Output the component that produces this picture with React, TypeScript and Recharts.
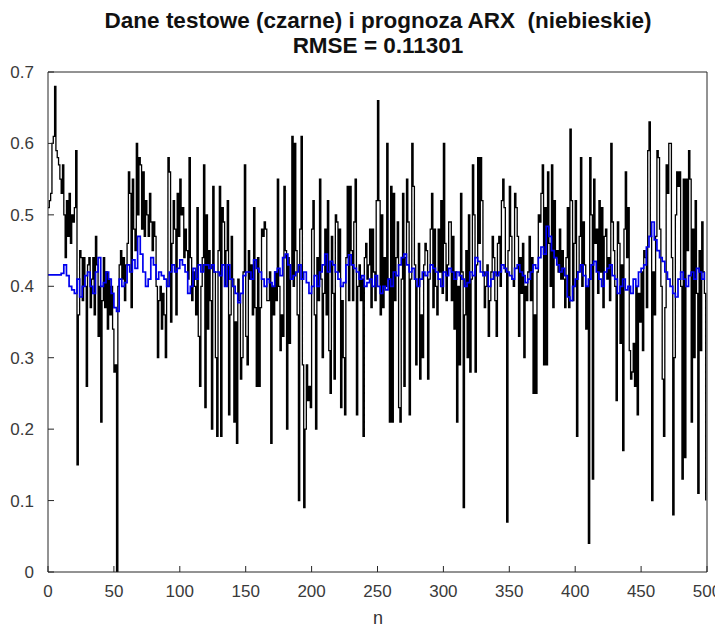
import { LineChart, Line, XAxis, YAxis } from 'recharts';

// test data (black stairs), one value per sample n = 0..499
const testData: number[] = [
  0.51, 0.52, 0.53, 0.60, 0.61, 0.68, 0.59, 0.58, 0.57, 0.55,
  0.53, 0.57, 0.50, 0.44, 0.52, 0.47, 0.53, 0.46, 0.50, 0.49,
  0.51, 0.59, 0.15, 0.36, 0.45, 0.44, 0.38, 0.44, 0.40, 0.26,
  0.43, 0.44, 0.37, 0.41, 0.44, 0.36, 0.47, 0.43, 0.33, 0.40,
  0.21, 0.38, 0.44, 0.37, 0.42, 0.34, 0.41, 0.36, 0.40, 0.34,
  0.28, 0.29, 0.00, 0.40, 0.43, 0.45, 0.41, 0.44, 0.38, 0.43,
  0.46, 0.56, 0.53, 0.37, 0.55, 0.48, 0.45, 0.60, 0.50, 0.58,
  0.57, 0.48, 0.56, 0.47, 0.52, 0.50, 0.47, 0.53, 0.49, 0.45,
  0.49, 0.47, 0.40, 0.30, 0.38, 0.40, 0.34, 0.39, 0.36, 0.30,
  0.40, 0.58, 0.56, 0.35, 0.46, 0.52, 0.48, 0.36, 0.53, 0.47,
  0.55, 0.50, 0.51, 0.44, 0.48, 0.45, 0.41, 0.58, 0.44, 0.38,
  0.42, 0.40, 0.36, 0.51, 0.33, 0.26, 0.40, 0.44, 0.57, 0.23,
  0.50, 0.34, 0.45, 0.38, 0.20, 0.54, 0.42, 0.30, 0.19, 0.45,
  0.54, 0.19, 0.51, 0.49, 0.40, 0.45, 0.52, 0.22, 0.36, 0.47,
  0.41, 0.21, 0.35, 0.18, 0.41, 0.38, 0.27, 0.30, 0.42, 0.57,
  0.33, 0.29, 0.45, 0.41, 0.43, 0.36, 0.51, 0.37, 0.26, 0.44,
  0.26, 0.37, 0.48, 0.47, 0.49, 0.48, 0.38, 0.38, 0.42, 0.18,
  0.40, 0.36, 0.42, 0.38, 0.55, 0.40, 0.31, 0.36, 0.33, 0.54,
  0.45, 0.20, 0.44, 0.32, 0.41, 0.61, 0.40, 0.60, 0.45, 0.36,
  0.10, 0.48, 0.61, 0.29, 0.09, 0.20, 0.29, 0.24, 0.26, 0.23,
  0.48, 0.52, 0.36, 0.20, 0.44, 0.38, 0.55, 0.41, 0.30, 0.39,
  0.48, 0.36, 0.52, 0.31, 0.25, 0.47, 0.39, 0.27, 0.50, 0.49,
  0.42, 0.48, 0.23, 0.38, 0.30, 0.22, 0.44, 0.54, 0.38, 0.54,
  0.45, 0.38, 0.49, 0.55, 0.22, 0.40, 0.43, 0.38, 0.41, 0.19,
  0.44, 0.46, 0.41, 0.43, 0.48, 0.37, 0.48, 0.42, 0.38, 0.52,
  0.66, 0.52, 0.36, 0.50, 0.37, 0.44, 0.40, 0.60, 0.41, 0.21,
  0.54, 0.21, 0.53, 0.38, 0.44, 0.49, 0.23, 0.21, 0.41, 0.53,
  0.26, 0.44, 0.55, 0.49, 0.22, 0.41, 0.60, 0.54, 0.43, 0.29,
  0.40, 0.46, 0.27, 0.36, 0.30, 0.43, 0.46, 0.45, 0.27, 0.41,
  0.48, 0.53, 0.37, 0.48, 0.40, 0.36, 0.48, 0.42, 0.52, 0.39,
  0.60, 0.46, 0.38, 0.43, 0.49, 0.49, 0.38, 0.47, 0.34, 0.42,
  0.21, 0.40, 0.29, 0.53, 0.42, 0.09, 0.36, 0.45, 0.30, 0.50,
  0.28, 0.41, 0.57, 0.50, 0.28, 0.43, 0.58, 0.46, 0.58, 0.52,
  0.42, 0.37, 0.40, 0.43, 0.33, 0.38, 0.42, 0.47, 0.44, 0.38,
  0.33, 0.46, 0.47, 0.40, 0.52, 0.55, 0.51, 0.42, 0.07, 0.45,
  0.54, 0.47, 0.41, 0.40, 0.53, 0.51, 0.47, 0.33, 0.44, 0.39,
  0.46, 0.30, 0.40, 0.38, 0.42, 0.47, 0.38, 0.44, 0.25, 0.36,
  0.25, 0.42, 0.50, 0.49, 0.53, 0.57, 0.29, 0.51, 0.29, 0.56,
  0.46, 0.40, 0.57, 0.37, 0.52, 0.44, 0.45, 0.42, 0.48, 0.41,
  0.45, 0.41, 0.37, 0.44, 0.51, 0.37, 0.62, 0.52, 0.38, 0.46,
  0.52, 0.19, 0.42, 0.47, 0.58, 0.40, 0.49, 0.43, 0.34, 0.40,
  0.04, 0.58, 0.50, 0.13, 0.55, 0.46, 0.48, 0.39, 0.52, 0.42,
  0.51, 0.37, 0.47, 0.48, 0.41, 0.44, 0.38, 0.60, 0.49, 0.45,
  0.40, 0.24, 0.49, 0.46, 0.32, 0.43, 0.17, 0.48, 0.56, 0.44,
  0.51, 0.31, 0.27, 0.28, 0.32, 0.26, 0.40, 0.22, 0.39, 0.35,
  0.42, 0.31, 0.45, 0.44, 0.37, 0.59, 0.63, 0.47, 0.10, 0.42,
  0.36, 0.47, 0.59, 0.58, 0.48, 0.40, 0.27, 0.19, 0.37, 0.57,
  0.53, 0.60, 0.60, 0.44, 0.08, 0.30, 0.50, 0.56, 0.54, 0.56,
  0.40, 0.13, 0.55, 0.16, 0.55, 0.45, 0.59, 0.55, 0.21, 0.48,
  0.30, 0.52, 0.39, 0.11, 0.45, 0.31, 0.49, 0.42, 0.39, 0.10,
];

// ARX prediction (blue), read every second sample n = 0, 2, ..., 498
const predStep = 2;
const predData: number[] = [
  0.416, 0.416, 0.416, 0.416, 0.416, 0.418, 0.43, 0.415, 0.40, 0.395,
  0.39, 0.41, 0.385, 0.40, 0.415, 0.42, 0.40, 0.39, 0.42, 0.44,
  0.40, 0.405, 0.42, 0.41, 0.39, 0.37, 0.365, 0.41, 0.40, 0.405,
  0.43, 0.42, 0.437, 0.425, 0.47, 0.445, 0.42, 0.40, 0.41, 0.44,
  0.43, 0.41, 0.42, 0.415, 0.41, 0.40, 0.42, 0.43, 0.42, 0.425,
  0.437, 0.43, 0.42, 0.39, 0.40, 0.425, 0.41, 0.43, 0.42, 0.43,
  0.43, 0.425, 0.43, 0.42, 0.42, 0.415, 0.43, 0.40, 0.43, 0.41,
  0.40, 0.39, 0.377, 0.39, 0.415, 0.42, 0.42, 0.41, 0.437, 0.425,
  0.42, 0.41, 0.40, 0.41, 0.405, 0.40, 0.42, 0.425, 0.415, 0.44,
  0.445, 0.43, 0.41, 0.415, 0.42, 0.43, 0.41, 0.42, 0.405, 0.39,
  0.40, 0.415, 0.40, 0.42, 0.43, 0.445, 0.42, 0.435, 0.43, 0.42,
  0.41, 0.40, 0.405, 0.43, 0.444, 0.43, 0.425, 0.42, 0.41, 0.415,
  0.40, 0.405, 0.41, 0.40, 0.415, 0.40, 0.39, 0.40, 0.395, 0.41,
  0.40, 0.42, 0.415, 0.43, 0.44, 0.445, 0.43, 0.42, 0.425, 0.41,
  0.40, 0.41, 0.42, 0.415, 0.42, 0.43, 0.425, 0.42, 0.41, 0.40,
  0.42, 0.415, 0.425, 0.42, 0.41, 0.42, 0.415, 0.41, 0.40, 0.405,
  0.42, 0.415, 0.44, 0.435, 0.42, 0.415, 0.42, 0.40, 0.41, 0.42,
  0.415, 0.42, 0.43, 0.425, 0.42, 0.415, 0.41, 0.425, 0.43, 0.42,
  0.415, 0.405, 0.41, 0.42, 0.43, 0.425, 0.44, 0.455, 0.445, 0.484,
  0.47, 0.45, 0.44, 0.43, 0.42, 0.425, 0.415, 0.385, 0.38, 0.40,
  0.41, 0.42, 0.43, 0.415, 0.40, 0.41, 0.43, 0.435, 0.42, 0.41,
  0.40, 0.42, 0.425, 0.43, 0.415, 0.41, 0.39, 0.40, 0.41, 0.395,
  0.40, 0.39, 0.41, 0.40, 0.42, 0.425, 0.43, 0.455, 0.47, 0.49,
  0.465, 0.45, 0.44, 0.435, 0.42, 0.41, 0.40, 0.39, 0.385, 0.41,
  0.42, 0.41, 0.40, 0.415, 0.42, 0.41, 0.425, 0.42, 0.41, 0.42,
];

const xTicks = [0, 50, 100, 150, 200, 250, 300, 350, 400, 450, 500];
const yTicks = [0, 0.1, 0.2, 0.3, 0.4, 0.5, 0.6, 0.7];

const titleLine1 = 'Dane testowe (czarne) i prognoza ARX  (niebieskie)';
const titleLine2 = 'RMSE = 0.11301';
const xLabel = 'n';

const testRows = testData.map((v, i) => ({ n: i, y: v }));
const predRows = predData.map((v, i) => ({ n: i * predStep, y: v }));

const font = '"Liberation Sans", Arial, sans-serif';
const axisColor = '#262626';
const tickStyle = { fontSize: 17, fill: '#3a3a3a', fontFamily: font };

export default function App() {
  return (
    <div style={{ position: 'relative', width: 715, height: 624, background: '#fff' }}>
      <style>{'.recharts-surface { overflow: visible; }'}</style>
      <div
        style={{
          position: 'absolute', left: 20, width: 700, top: 0, textAlign: 'center',
          fontFamily: font, fontWeight: 'bold', fontSize: 22.5, lineHeight: '25px', color: '#111',
          whiteSpace: 'pre',
        }}
      >
        {titleLine1}
        {'\n'}
        {titleLine2}
      </div>
      <LineChart width={715} height={624} margin={{ top: 63, right: 15, left: 10, bottom: 20 }}>
        <XAxis
          xAxisId="b"
          dataKey="n"
          type="number"
          domain={[0, 500]}
          ticks={xTicks}
          allowDataOverflow
          height={40}
          tickSize={-6}
          tickMargin={19}
          stroke={axisColor}
          tick={tickStyle}
        />
        <XAxis
          xAxisId="t"
          orientation="top"
          dataKey="n"
          type="number"
          domain={[0, 500]}
          ticks={xTicks}
          height={1}
          tickSize={-6}
          tick={false}
          stroke={axisColor}
        />
        <YAxis
          yAxisId="l"
          type="number"
          domain={[0, 0.7]}
          ticks={yTicks}
          allowDataOverflow
          width={30}
          tickSize={-6}
          tickMargin={20}
          stroke={axisColor}
          tick={tickStyle}
          tickFormatter={(v: number) => (v === 0 ? '0' : v.toFixed(1))}
        />
        <YAxis
          yAxisId="r"
          orientation="right"
          type="number"
          domain={[0, 0.7]}
          ticks={yTicks}
          width={1}
          tickSize={-6}
          tick={false}
          stroke={axisColor}
        />
        <Line
          xAxisId="b"
          yAxisId="l"
          data={testRows}
          dataKey="y"
          type="stepAfter"
          stroke="#000"
          strokeWidth={1.3}
          dot={false}
          isAnimationActive={false}
        />
        <Line
          xAxisId="b"
          yAxisId="l"
          data={predRows}
          dataKey="y"
          type="stepAfter"
          stroke="#0000ee"
          strokeWidth={1.7}
          dot={false}
          isAnimationActive={false}
        />
      </LineChart>
      <div
        style={{
          position: 'absolute', left: 355, width: 30, top: 600, textAlign: 'center',
          fontFamily: font, fontSize: 18, color: '#333',
        }}
      >
        {xLabel}
      </div>
    </div>
  );
}
